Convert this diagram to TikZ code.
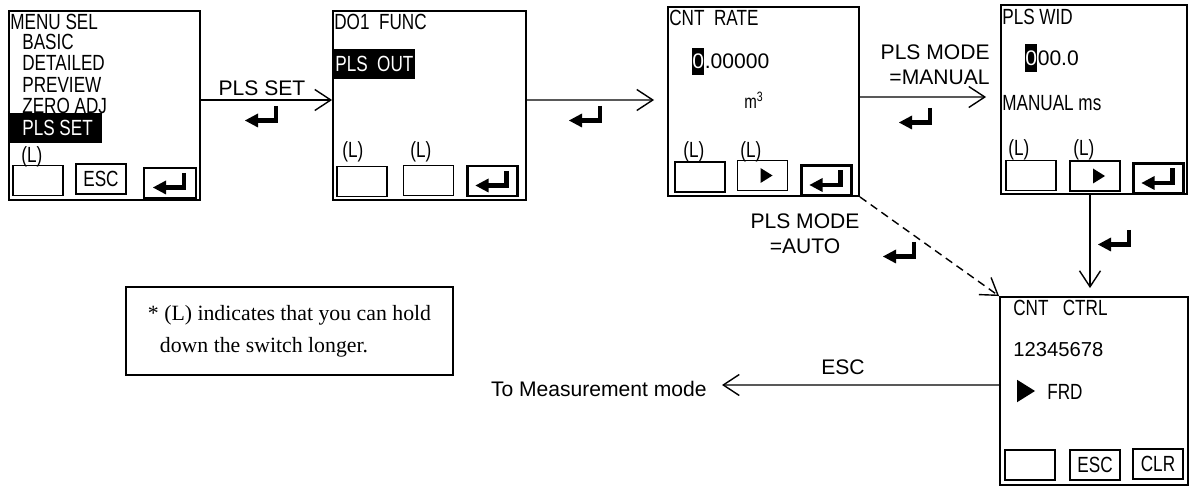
\documentclass[tikz,border=0pt]{standalone}
\usepackage{fontspec}
\newfontfamily\lcdfont[FakeStretch=0.78]{Liberation Sans}
\newfontfamily\arialfont{Liberation Sans}
\newfontfamily\timesfont{Liberation Serif}
\usetikzlibrary{arrows.meta}

\begin{document}
\begin{tikzpicture}[
  x=0.02cm, y=-0.02cm,
  lcd/.style={font=\lcdfont\fontsize{12.5}{14}\selectfont,inner sep=0,anchor=west},
  num/.style={font=\arialfont\fontsize{12}{14}\selectfont,inner sep=0,anchor=west},
  lbl/.style={font=\arialfont\fontsize{12}{14.5}\selectfont,inner sep=0,align=center},
  screen/.style={draw,line width=1.1pt,inner sep=0,minimum width=3.82cm,minimum height=3.78cm},
  btn/.style={draw,line width=0.9pt,inner sep=0,minimum width=1cm,minimum height=0.6cm,
    font=\lcdfont\fontsize{12.5}{14}\selectfont},
  okbtn/.style={btn,line width=1.5pt},
  hl/.style={lcd,fill=black,text=white,minimum height=0.6cm},
  conn/.style={line width=0.8pt},
  retkey/.pic={
    \draw[line width=2.8pt] (14,-10) -- (14,4.5) -- (-5,4.5);
    \fill (-4,-2.5) -- (-17,4.5) -- (-4,11.5) -- cycle;},
  play/.pic={\fill (-2,-7.5) -- (10,0) -- (-2,7.5) -- cycle;},
  >={Straight Barb[length=3.2mm,width=4.2mm]}]
\useasboundingbox (0,0) rectangle (1190,486);

\node[screen] (menu) at (104.5,105.5) {};
\node[lcd] (menu0) at (10,22) {MENU SEL};
\foreach \t/\y [count=\i] in {BASIC/42,DETAILED/63,PREVIEW/85,ZERO ADJ/106}
  \node[lcd] (menu\i) at (22,\y) {\t};
\node[hl] (menuhl) at (9,128) {\makebox[1.86cm][l]{\hspace{0.26cm}PLS SET}};
\node[lcd] (menuL) at (21,157) {(L)};
\node[btn] (menuA) at (38,180.5) {};
\node[btn] (menuB) at (101,179) {ESC};
\node[okbtn,minimum width=1.04cm] (menuC) at (170,183) {};
\pic at (menuC) {retkey};

\node[screen,minimum width=3.86cm] (dofunc) at (429.5,105.5) {};
\node[lcd] (do0) at (334,22) {DO1\ \ FUNC};
\node[hl] (dohl) at (333,64) {\makebox[1.64cm][l]{\hspace{0.04cm}PLS\ \ OUT}};
\node[lcd] (doL1) at (342,152) {(L)};
\node[lcd] (doL2) at (410,152) {(L)};
\node[btn] (doA) at (362,181.5) {};
\node[btn] (doB) at (428.5,180.5) {};
\node[okbtn] (doC) at (492.5,181) {};
\pic at (doC) {retkey};

\node[screen] (cntrate) at (763.5,101.5) {};
\node[lcd] (cr0) at (669,18) {CNT\ \ RATE};
\node[num,fill=black,text=white,minimum height=0.54cm] (crhl) at (692,61.5) {0};
\node[num] (crval) at (crhl.east) {.00000};
\node[lcd,anchor=center,font=\lcdfont\fontsize{11}{13}\selectfont] (crunit) at (754,100) {m\textsuperscript{3}};
\node[lcd] (crL1) at (683,152) {(L)};
\node[lcd] (crL2) at (740,152) {(L)};
\node[btn] (crA) at (700,177) {};
\node[btn] (crB) at (762.5,175.5) {};
\node[okbtn] (crC) at (826.5,180.5) {};
\pic at (crB) {play};
\pic at (crC) {retkey};

\node[screen,minimum width=3.72cm] (plswid) at (1094,99.5) {};
\node[lcd] (pw0) at (1002,17) {PLS WID};
\node[num,fill=black,text=white,minimum height=0.56cm] (pwhl) at (1025,58) {0};
\node[num] (pwval) at (pwhl.east) {00.0};
\node[lcd] (pw1) at (1002,103) {MANUAL ms};
\node[lcd] (pwL1) at (1008,150) {(L)};
\node[lcd] (pwL2) at (1073,150) {(L)};
\node[btn] (pwA) at (1031,175.5) {};
\node[btn] (pwB) at (1095,176) {};
\node[okbtn] (pwC) at (1158.5,178.5) {};
\pic at (pwB) {play};
\pic at (pwC) {retkey};

\node[screen,minimum width=3.76cm,minimum height=3.76cm] (cntctrl) at (1094,391) {};
\node[lcd] (cc0) at (1013,308) {CNT\ \ \ CTRL};
\node[num,font=\arialfont\fontsize{11.5}{13}\selectfont] (cc1) at (1013,350) {12345678};
\pic[scale=1.5] at (1020,391) {play};
\node[lcd] (cc2) at (1047,392) {FRD};
\node[btn] (ccA) at (1030,465) {};
\node[btn] (ccB) at (1095,465) {ESC};
\node[btn] (ccC) at (1158,464) {CLR};

\draw[conn,->] ([yshift=0.11cm]menu.east) -- ([yshift=0.11cm]dofunc.west);
\node[lbl] (l12) at (262,88) {PLS SET};
\pic at (262,116) {retkey};
\draw[conn,->] ([yshift=0.11cm]dofunc.east) -- ([xshift=-0.26cm,yshift=0.03cm]cntrate.west);
\pic at (586,116) {retkey};
\draw[conn,->] ([yshift=0.09cm]cntrate.east) -- ([xshift=-0.28cm,yshift=0.05cm]plswid.west);
\node[lbl,align=right,anchor=east] (l34) at (990,64.5) {PLS MODE\hspace{0.2cm}\\=MANUAL};
\pic at (916,118) {retkey};
\draw[conn,->] ([xshift=-0.08cm]plswid.south) -- ([xshift=-0.08cm,yshift=0.16cm]cntctrl.north);
\pic at (1115,240) {retkey};
\draw[conn,->,dash pattern=on 4.5pt off 3pt] (cntrate.south east) -- (cntctrl.north west);
\node[lbl] (l35) at (805,234) {PLS MODE\\=AUTO};
\pic at (900,252) {retkey};
\node[lbl,anchor=east] (tomeas) at (707,389) {To Measurement mode};
\draw[conn,->] ([yshift=0.12cm]cntctrl.west) -- ([xshift=0.3cm,yshift=0.08cm]tomeas.east);
\node[lbl] (l5m) at (843,367) {ESC};

\node[draw,line width=0.9pt,minimum width=6.54cm,minimum height=1.76cm,align=left,
  font=\timesfont\fontsize{12.4}{18.2}\selectfont] (note) at (289.5,331)
  {* (L) indicates that you can hold\\\hspace*{0.24cm}down the switch longer.};
\end{tikzpicture}
\end{document}
